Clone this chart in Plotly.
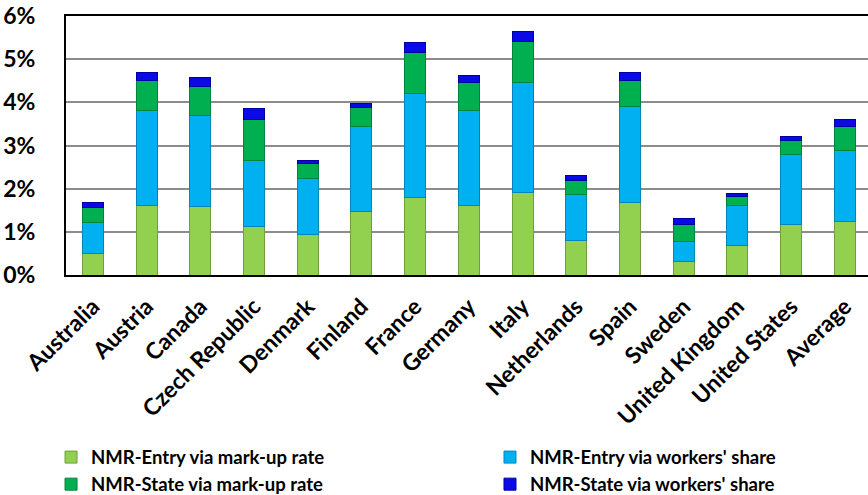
import plotly.graph_objects as go

countries = ["Australia", "Austria", "Canada", "Czech Republic", "Denmark", "Finland",
             "France", "Germany", "Italy", "Netherlands", "Spain", "Sweden",
             "United Kingdom", "United States", "Average"]

entry_markup = [0.50, 1.62, 1.58, 1.13, 0.94, 1.46, 1.80, 1.61, 1.91, 0.79, 1.68, 0.31, 0.68, 1.18, 1.23]
entry_workers = [0.71, 2.20, 2.12, 1.53, 1.30, 1.97, 2.41, 2.19, 2.54, 1.07, 2.23, 0.47, 0.94, 1.62, 1.66]
state_markup = [0.36, 0.69, 0.675, 0.94, 0.35, 0.45, 0.95, 0.66, 0.96, 0.33, 0.60, 0.39, 0.19, 0.32, 0.56]
state_workers = [0.12, 0.17, 0.19, 0.26, 0.07, 0.10, 0.23, 0.17, 0.24, 0.11, 0.17, 0.13, 0.07, 0.09, 0.16]

series = [
    ("NMR-Entry via mark-up rate", entry_markup, "#92D050", "#6f9e3a", "legend"),
    ("NMR-Entry via workers' share", entry_workers, "#00B0F0", "#0086b8", "legend2"),
    ("NMR-State via mark-up rate", state_markup, "#00B050", "#00843c", "legend"),
    ("NMR-State via workers' share", state_workers, "#0A0AE6", "#0000a0", "legend2"),
]

FONT = "Lato"
fig = go.Figure()
for name, vals, col, edge, lg in series:
    fig.add_trace(go.Bar(
        x=countries, y=[v / 100 for v in vals], name=name,
        marker=dict(color=col, line=dict(color=edge, width=1)),
        legend=lg, legendgroup=name,
    ))

legend_common = dict(
    orientation="v", traceorder="normal", yanchor="top", xanchor="left",
    xref="container", yref="container",
    font=dict(family=FONT, size=18.5, color="black", weight="bold"),
    bgcolor="rgba(0,0,0,0)", itemwidth=30, tracegroupgap=8,
)

fig.update_layout(
    width=868, height=495,
    margin=dict(l=66, r=0, t=16, b=220, autoexpand=False),
    barmode="stack", bargap=0.61,
    plot_bgcolor="white", paper_bgcolor="white",
    showlegend=True,
    legend=dict(x=0.0588, y=0.114, **legend_common),
    legend2=dict(x=0.5645, y=0.114, **legend_common),
    xaxis=dict(
        range=[-0.5, 14.43], tickangle=-45,
        tickfont=dict(family=FONT, size=23, color="black", weight="bold"),
        showline=True, linecolor="black", linewidth=2, mirror=True,
        showgrid=False, ticks="", ticklabelstandoff=7,
    ),
    yaxis=dict(
        range=[0, 0.06], dtick=0.01, tickformat=".0%",
        tickfont=dict(family=FONT, size=23, color="black", weight="bold"),
        showline=True, linecolor="black", linewidth=2,
        showgrid=True, gridcolor="#8c8c8c", gridwidth=2,
        ticks="", ticklabelstandoff=24, zeroline=False,
    ),
)

fig.write_html("out.html")
